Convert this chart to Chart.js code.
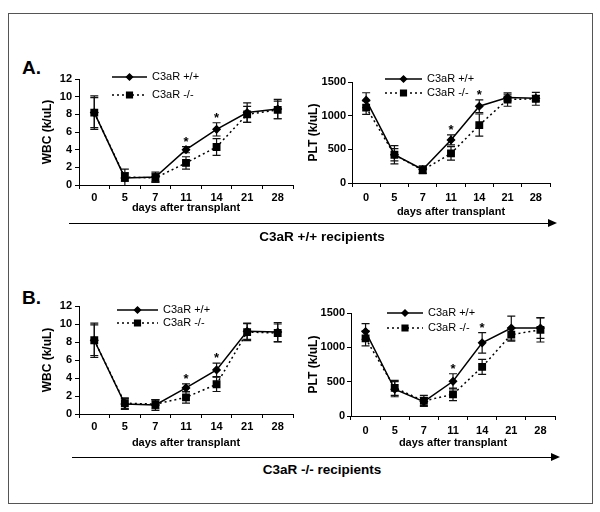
<!DOCTYPE html>
<html>
<head>
<meta charset="utf-8">
<script src="https://cdn.jsdelivr.net/npm/chart.js@4.4.0/dist/chart.umd.min.js"></script>
<style>
  body { margin: 0; background: #fff; }
  #page { position: relative; width: 600px; height: 512px; font-family: Arial, 'Liberation Sans', sans-serif; color: #000; }
  #frame { position: absolute; left: 8px; top: 13px; width: 583px; height: 489px; border: 1.5px solid #555; }
  canvas { position: absolute; }
  .tag { position: absolute; font-weight: bold; font-size: 19px; line-height: 20px; }
  .arrow { position: absolute; height: 0; border-top: 1.5px solid #000; }
  .arrow::after { content: ''; position: absolute; right: -3px; top: -5.5px; border-left: 9px solid #000; border-top: 4.5px solid transparent; border-bottom: 4.5px solid transparent; }
  .group { position: absolute; left: 0; width: 644px; text-align: center; font-weight: bold; font-size: 13.5px; line-height: 16px; }
</style>
</head>
<body>
<div id="page">
  <div id="frame"></div>
  <div class="tag" style="left:22px;top:58px">A.</div>
  <div class="tag" style="left:22px;top:288px">B.</div>
  <canvas id="wbcA" width="260" height="155" style="left:40px;top:60px"></canvas>
  <canvas id="pltA" width="250" height="159" style="left:306px;top:60px"></canvas>
  <canvas id="wbcB" width="260" height="160" style="left:40px;top:290px"></canvas>
  <canvas id="pltB" width="255" height="160" style="left:306px;top:290px"></canvas>
  <div class="arrow" style="left:69px;top:223px;width:485px"></div>
  <div class="group" style="top:229px">C3aR +/+ recipients</div>
  <div class="arrow" style="left:72px;top:457px;width:485px"></div>
  <div class="group" style="top:462px">C3aR -/- recipients</div>
</div>
<script>
const days = ['0', '5', '7', '11', '14', '21', '28'];
const seriesNames = ['C3aR +/+', 'C3aR -/-'];

// A. C3aR +/+ recipients
const wbcA_wt = [8.2, 0.8, 0.9, 4.0, 6.3, 8.2, 8.6];
const wbcA_wtErr = [1.9, 1.0, 0.55, 0.35, 0.75, 1.1, 1.1];
const wbcA_ko = [8.2, 0.9, 0.8, 2.5, 4.3, 8.0, 8.5];
const wbcA_koErr = [1.7, 0.5, 0.5, 0.7, 0.95, 0.9, 1.0];
const wbcA_sig = [0, 0, 0, 1, 1, 0, 0];

const pltA_wt = [1230, 420, 200, 640, 1140, 1270, 1260];
const pltA_wtErr = [110, 90, 55, 75, 95, 50, 40];
const pltA_ko = [1120, 420, 190, 440, 860, 1240, 1250];
const pltA_koErr = [100, 135, 45, 100, 165, 100, 95];
const pltA_sig = [0, 0, 0, 1, 1, 0, 0];

// B. C3aR -/- recipients
const wbcB_wt = [8.2, 1.1, 1.0, 2.9, 4.9, 9.2, 9.1];
const wbcB_wtErr = [1.9, 0.6, 0.6, 0.45, 0.75, 0.9, 1.05];
const wbcB_ko = [8.2, 1.2, 1.1, 1.85, 3.3, 9.1, 9.0];
const wbcB_koErr = [1.7, 0.6, 0.5, 0.65, 0.8, 0.95, 1.0];
const wbcB_sig = [0, 0, 0, 1, 1, 0, 0];

const pltB_wt = [1230, 390, 210, 505, 1065, 1280, 1280];
const pltB_wtErr = [115, 110, 60, 110, 150, 175, 150];
const pltB_ko = [1130, 410, 220, 315, 715, 1185, 1255];
const pltB_koErr = [110, 110, 80, 90, 110, 95, 177];
const pltB_sig = [0, 0, 0, 1, 1, 0, 0];

const BOLD = { family: 'Arial, "Liberation Sans", sans-serif', size: 11, weight: 'bold' };

// vertical error bars with caps, drawn behind the markers
const errorBars = {
  id: 'errorBars',
  beforeDatasetsDraw(chart) {
    const ctx = chart.ctx, area = chart.chartArea, y = chart.scales.y;
    ctx.save();
    ctx.beginPath();
    ctx.rect(area.left - 10, area.top - 30, area.right - area.left + 20, area.bottom - area.top + 30);
    ctx.clip();
    ctx.strokeStyle = '#111';
    ctx.lineWidth = 1.2;
    chart.data.datasets.forEach((ds, i) => {
      const meta = chart.getDatasetMeta(i);
      ds.errors.forEach((e, j) => {
        const x = meta.data[j].x;
        const top = y.getPixelForValue(ds.data[j] + e);
        const bot = y.getPixelForValue(ds.data[j] - e);
        ctx.beginPath();
        ctx.moveTo(x, top); ctx.lineTo(x, bot);
        ctx.moveTo(x - 4, top); ctx.lineTo(x + 4, top);
        ctx.moveTo(x - 4, bot); ctx.lineTo(x + 4, bot);
        ctx.stroke();
      });
    });
    ctx.restore();
  }
};

// "*" above significant days
const stars = {
  id: 'stars',
  afterDatasetsDraw(chart, args, opts) {
    const ctx = chart.ctx, y = chart.scales.y;
    const sets = chart.data.datasets;
    ctx.save();
    ctx.font = 'bold 13px Arial, "Liberation Sans", sans-serif';
    ctx.textAlign = 'center';
    ctx.textBaseline = 'alphabetic';
    ctx.fillStyle = '#000';
    opts.flags.forEach((f, j) => {
      if (!f) return;
      const upper = Math.max(...sets.map(ds => ds.data[j] + ds.errors[j]));
      const x = chart.getDatasetMeta(0).data[j].x;
      ctx.fillText('*', x, y.getPixelForValue(upper) - 1);
    });
    ctx.restore();
  }
};

// small key inside the plot: line sample + marker + name
const keyBox = {
  id: 'keyBox',
  afterDraw(chart, args, opts) {
    const ctx = chart.ctx, area = chart.chartArea;
    ctx.save();
    chart.data.datasets.forEach((ds, i) => {
      const x0 = area.left + opts.dx, y0 = area.top + opts.dy + i * opts.gap;
      ctx.strokeStyle = '#000';
      ctx.lineWidth = 1.5;
      ctx.setLineDash(ds.borderDash || []);
      ctx.beginPath();
      ctx.moveTo(x0, y0); ctx.lineTo(x0 + opts.len, y0);
      ctx.stroke();
      ctx.setLineDash([]);
      Chart.helpers.drawPoint(ctx, { pointStyle: ds.pointStyle, radius: ds.pointRadius - 0.5, borderWidth: 1 }, x0 + opts.len / 2, y0);
      ctx.fillStyle = '#000';
      ctx.fill();
      ctx.font = '11px Arial, "Liberation Sans", sans-serif';
      ctx.textBaseline = 'middle';
      ctx.textAlign = 'left';
      ctx.fillText(ds.label, x0 + opts.len + 5, y0);
    });
    ctx.restore();
  }
};

function makePanel(id, yTitle, yMax, yStep, wt, wtErr, ko, koErr, sig, box) {
  return new Chart(document.getElementById(id), {
    type: 'line',
    data: {
      labels: days,
      datasets: [
        {
          label: seriesNames[0], data: wt, errors: wtErr,
          borderColor: '#000', backgroundColor: '#000', borderWidth: 1.5,
          pointStyle: 'rectRot', pointRadius: 3.5, tension: 0
        },
        {
          label: seriesNames[1], data: ko, errors: koErr,
          borderColor: '#000', backgroundColor: '#000', borderWidth: 1.5, borderDash: [2, 3],
          pointStyle: 'rect', pointRadius: 4.5, tension: 0
        }
      ]
    },
    options: {
      responsive: false,
      animation: false,
      devicePixelRatio: 1,
      layout: { padding: { top: box.padTop, right: box.padRight, left: 0, bottom: 0 } },
      plugins: {
        legend: { display: false },
        tooltip: { enabled: false },
        stars: { flags: sig },
        keyBox: box.key
      },
      scales: {
        x: {
          type: 'category',
          offset: true,
          afterFit: s => { s.height = box.xHeight; },
          grid: { offset: true, drawOnChartArea: false, tickLength: 4, tickColor: '#000' },
          border: { color: '#000', width: 1 },
          ticks: { font: BOLD, color: '#000', padding: box.tickPad, maxRotation: 0, autoSkip: false },
          title: { display: true, text: 'days after transplant', font: BOLD, color: '#000', padding: 0 }
        },
        y: {
          min: 0, max: yMax,
          afterFit: s => { s.width = box.yWidth; },
          grid: { drawOnChartArea: false, tickLength: 4, tickColor: '#000' },
          border: { color: '#000', width: 1 },
          ticks: { stepSize: yStep, font: BOLD, color: '#000', padding: box.yPad, callback: v => String(v) },
          title: { display: true, text: yTitle, font: { ...BOLD, size: 12 }, color: '#000', padding: 0 }
        }
      }
    },
    plugins: [errorBars, stars, keyBox]
  });
}

makePanel('wbcA', 'WBC (k/uL)', 12, 2, wbcA_wt, wbcA_wtErr, wbcA_ko, wbcA_koErr, wbcA_sig,
  { yWidth: 39, xHeight: 30, padTop: 19, padRight: 7, tickPad: 2, yPad: 3, key: { dx: 33, dy: -2, len: 35, gap: 18 } });
makePanel('pltA', 'PLT (k/uL)', 1500, 500, pltA_wt, pltA_wtErr, pltA_ko, pltA_koErr, pltA_sig,
  { yWidth: 46, xHeight: 36, padTop: 22, padRight: 6, tickPad: 4, yPad: 2, key: { dx: 33, dy: -3, len: 37, gap: 14 } });
makePanel('wbcB', 'WBC (k/uL)', 12, 2, wbcB_wt, wbcB_wtErr, wbcB_ko, wbcB_koErr, wbcB_sig,
  { yWidth: 39, xHeight: 36, padTop: 16, padRight: 7, tickPad: 2, yPad: 3, key: { dx: 38, dy: 4, len: 41, gap: 13 } });
makePanel('pltB', 'PLT (k/uL)', 1500, 500, pltB_wt, pltB_wtErr, pltB_ko, pltB_koErr, pltB_sig,
  { yWidth: 45, xHeight: 34, padTop: 23, padRight: 6, tickPad: 4, yPad: 2, key: { dx: 36, dy: 0, len: 36, gap: 15 } });
</script>
</body>
</html>
